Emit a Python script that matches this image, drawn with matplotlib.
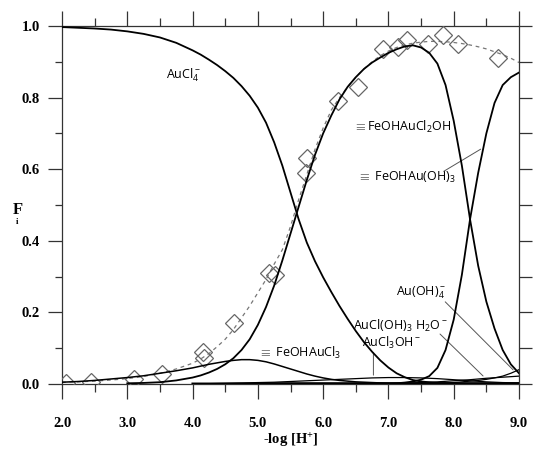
import numpy as np
import matplotlib
matplotlib.use("Agg")
import matplotlib.pyplot as plt
from matplotlib.ticker import MultipleLocator

plt.rcParams['mathtext.fontset'] = 'custom'
plt.rcParams['mathtext.rm'] = 'Open Sans'
plt.rcParams['mathtext.it'] = 'Open Sans:italic'
plt.rcParams['mathtext.bf'] = 'Open Sans:bold'

nan = float('nan')

# -log[H+] grid
pH = [2.0, 2.25, 2.5, 2.75, 3.0, 3.25, 3.5, 3.75, 4.0,
      4.125, 4.25, 4.375, 4.5, 4.625, 4.75, 4.875, 5.0, 5.125, 5.25, 5.375, 5.5, 5.625,
      5.75, 5.875, 6.0, 6.125, 6.25, 6.375, 6.5, 6.625, 6.75, 6.875, 7.0, 7.125, 7.25,
      7.375, 7.5, 7.625, 7.75, 7.875, 8.0, 8.125, 8.25, 8.375, 8.5, 8.625, 8.75, 8.875, 9.0]

aucl4 = [0.997, 0.995, 0.993, 0.99, 0.985, 0.978, 0.968, 0.953, 0.932,
         0.92, 0.906, 0.891, 0.874, 0.855, 0.832, 0.805, 0.772, 0.73, 0.675, 0.61, 0.535, 0.46,
         0.395, 0.343, 0.298, 0.257, 0.218, 0.182, 0.148, 0.117, 0.09, 0.066, 0.046, 0.03, 0.019,
         0.011, 0.007, 0.005, 0.003, 0.002, 0.002, 0.001, 0.001, 0.001, 0.001, 0.001, 0.001, 0.001, 0.001]
feohaucl2oh = [nan, nan, nan, nan, 0.002, 0.003, 0.005, 0.01, 0.018,
               0.024, 0.032, 0.042, 0.055, 0.072, 0.095, 0.125, 0.165, 0.215, 0.275, 0.345, 0.42, 0.495,
               0.57, 0.64, 0.70, 0.75, 0.795, 0.83, 0.857, 0.88, 0.898, 0.912, 0.925, 0.935, 0.943,
               0.946, 0.94, 0.925, 0.895, 0.835, 0.735, 0.61, 0.46, 0.33, 0.23, 0.155, 0.095, 0.055, 0.03]
feohauoh3 = [nan, nan, nan, nan, nan, nan, nan, nan, nan,
             nan, nan, nan, nan, nan, nan, nan, nan, nan, nan, nan, nan, nan,
             nan, nan, nan, nan, nan, nan, 0.0, 0.0, 0.0, 0.001, 0.001, 0.002, 0.004,
             0.007, 0.012, 0.022, 0.045, 0.095, 0.18, 0.305, 0.46, 0.59, 0.70, 0.785, 0.835, 0.857, 0.87]
feohaucl3 = [0.005, 0.007, 0.01, 0.014, 0.018, 0.023, 0.03, 0.037, 0.045,
             0.05, 0.055, 0.059, 0.063, 0.066, 0.068, 0.068, 0.066, 0.062, 0.056, 0.049, 0.042, 0.035,
             0.028, 0.022, 0.017, 0.013, 0.01, 0.008, 0.006, 0.005, 0.004, 0.003, 0.002, 0.0015, 0.001,
             0.0, 0.0, 0.0, 0.0, 0.0, 0.0, 0.0, 0.0, 0.0, 0.0, 0.0, 0.0, 0.0, 0.0]
aucl3oh = [nan, nan, nan, nan, nan, nan, nan, nan, 0.0,
           0.0005, 0.001, 0.0015, 0.002, 0.0025, 0.003, 0.0035, 0.004, 0.0045, 0.005, 0.006, 0.007, 0.008,
           0.009, 0.01, 0.011, 0.012, 0.013, 0.014, 0.015, 0.016, 0.017, 0.0175, 0.018, 0.018, 0.018,
           0.0175, 0.017, 0.016, 0.015, 0.0135, 0.012, 0.0105, 0.009, 0.0075, 0.006, 0.005, 0.004, 0.0035, 0.003]
aucloh3 = [nan, nan, nan, nan, nan, nan, nan, nan, nan,
           nan, nan, nan, nan, nan, nan, nan, nan, nan, nan, nan, nan, nan,
           nan, nan, nan, nan, nan, nan, nan, nan, 0.0, 0.0005, 0.001, 0.0015, 0.002,
           0.003, 0.004, 0.005, 0.006, 0.0075, 0.009, 0.0105, 0.012, 0.014, 0.016, 0.0175, 0.019, 0.0205, 0.022]
auoh4 = [nan, nan, nan, nan, nan, nan, nan, nan, nan,
         nan, nan, nan, nan, nan, nan, nan, nan, nan, nan, nan, nan, nan,
         nan, nan, nan, nan, nan, nan, nan, nan, nan, nan, nan, nan, nan,
         nan, 0.0, 0.001, 0.002, 0.003, 0.004, 0.006, 0.008, 0.01, 0.013, 0.017, 0.022, 0.03, 0.04]
aucl2oh2 = [nan, nan, nan, nan, nan, nan, nan, nan, 0.001,
            0.001, 0.001, 0.001, 0.001, 0.001, 0.001, 0.001, 0.002, 0.002, 0.002, 0.002, 0.002, 0.002,
            0.002, 0.002, 0.002, 0.002, 0.002, 0.002, 0.002, 0.002, 0.002, 0.002, 0.002, 0.002, 0.002,
            0.002, 0.002, 0.002, 0.002, 0.002, 0.002, 0.002, 0.002, 0.002, 0.002, 0.002, 0.002, 0.002, 0.002]
total_fit = [0.005, 0.006, 0.008, 0.011, 0.015, 0.021, 0.03, 0.042, 0.058,
             0.07, 0.085, 0.104, 0.125, 0.152, 0.185, 0.218, 0.255, 0.292, 0.335, 0.375, 0.44, 0.515,
             0.585, 0.655, 0.715, 0.765, 0.80, 0.83, 0.857, 0.88, 0.90, 0.917, 0.93, 0.94, 0.947,
             0.952, 0.955, 0.957, 0.957, 0.956, 0.954, 0.951, 0.947, 0.942, 0.936, 0.928, 0.92, 0.91, 0.898]

# measured adsorbed fraction (diamonds)
obs_pH = [2.06, 2.44, 3.10, 3.53, 4.16, 4.17, 4.63, 5.17, 5.27, 5.73, 5.76, 6.22, 6.54,
          6.91, 7.14, 7.28, 7.60, 7.83, 8.07, 8.68]
obs_F = [0.003, 0.005, 0.014, 0.028, 0.09, 0.073, 0.17, 0.31, 0.305, 0.59, 0.63, 0.79, 0.83,
         0.935, 0.94, 0.96, 0.95, 0.975, 0.95, 0.91]

fig = plt.figure(figsize=(5.33, 4.51), dpi=100)
ax = fig.add_axes([62/533, 67/451, (519-62)/533, (384-26)/451])

ax.plot(pH, total_fit, color='#777777', lw=0.9, ls=(0, (3, 3)), zorder=2)
ax.plot(obs_pH, obs_F, ls='none', marker='D', ms=9, mfc='none', mec='#666666', mew=0.9, zorder=3)

for ys, lw in [(aucl4, 1.3), (feohaucl2oh, 1.3), (feohauoh3, 1.3), (feohaucl3, 1.1),
               (aucl3oh, 0.9), (aucloh3, 0.9), (auoh4, 0.9), (aucl2oh2, 1.6)]:
    ax.plot(pH, ys, color='black', lw=lw, zorder=4)

ax.set_xlim(2.0, 9.0)
ax.set_ylim(0.0, 1.0)

for s in ['left', 'bottom', 'top', 'right']:
    ax.spines[s].set_linewidth(0.9)
    ax.spines[s].set_color('#333333')

ax.xaxis.set_major_locator(MultipleLocator(1.0))
ax.xaxis.set_minor_locator(MultipleLocator(0.5))
ax.yaxis.set_major_locator(MultipleLocator(0.2))
ax.yaxis.set_minor_locator(MultipleLocator(0.1))
ax.tick_params(axis='x', which='both', direction='out', top=True, bottom=True, colors='#333333')
ax.tick_params(axis='x', which='major', length=11, width=0.9, pad=12.5)
ax.tick_params(axis='x', which='minor', length=6, width=0.9)
ax.tick_params(axis='y', which='both', direction='out', left=True, right=False, colors='#333333')
ax.tick_params(axis='y', which='major', length=10, width=0.9, pad=6)
ax.tick_params(axis='y', which='minor', length=5, width=0.9)
ax.set_xticklabels([f"{v:.1f}" for v in ax.get_xticks()])
ax.set_yticklabels([f"{v:.1f}" for v in ax.get_yticks()])
for lab in ax.get_xticklabels() + ax.get_yticklabels():
    lab.set_fontfamily('Liberation Serif')
    lab.set_fontweight('bold')
    lab.set_fontsize(10.5)
    lab.set_color('black')

ax2 = ax.twinx()
ax2.set_ylim(0.0, 1.0)
ax2.yaxis.set_major_locator(MultipleLocator(0.1))
ax2.tick_params(axis='y', direction='out', length=9, width=0.9, labelright=False, colors='#333333')
for s in ['left', 'bottom', 'top', 'right']:
    ax2.spines[s].set_visible(False)

ax.set_xlabel('-log [H$^{+}$]', fontfamily='Liberation Serif', fontweight='bold',
              fontsize=10.5, labelpad=0)
fig.text(13/533, 1 - 210/451, 'F', fontfamily='Liberation Serif', fontweight='bold',
         fontsize=12, ha='left', va='center')
fig.text(16/533, 1 - 222/451, 'i', fontfamily='Liberation Serif', fontweight='bold',
         fontsize=6.5, ha='left', va='center')

fs = 9
ax.text(3.59, 0.862, r'$\mathrm{AuCl}_4^-$', fontsize=fs, ha='left', va='center')
ax.text(6.45, 0.718, r'$\equiv\mathrm{FeOHAuCl}_2\mathrm{OH}$', fontsize=fs, ha='left', va='center')
ax.text(6.52, 0.578, r'$\equiv\ \mathrm{FeOHAu(OH)}_3$', fontsize=fs, ha='left', va='center')
ax.text(5.0, 0.087, r'$\equiv\ \mathrm{FeOHAuCl}_3$', fontsize=fs, ha='left', va='center')
ax.text(7.11, 0.254, r'$\mathrm{Au(OH)}_4^-$', fontsize=fs, ha='left', va='center')
ax.text(6.46, 0.162, r'$\mathrm{AuCl(OH)}_3\ \mathrm{H}_2\mathrm{O}^-$', fontsize=fs, ha='left', va='center')
ax.text(6.60, 0.115, r'$\mathrm{AuCl}_3\mathrm{OH}^-$', fontsize=fs, ha='left', va='center')

# leader lines
ax.annotate('', xy=(8.45, 0.66), xytext=(7.81, 0.59),
            arrowprops=dict(arrowstyle='-', color='#555555', lw=0.7))
ax.annotate('', xy=(8.94, 0.034), xytext=(7.84, 0.235),
            arrowprops=dict(arrowstyle='-', color='#555555', lw=0.7))
ax.annotate('', xy=(8.48, 0.017), xytext=(7.76, 0.145),
            arrowprops=dict(arrowstyle='-', color='#555555', lw=0.7))
ax.annotate('', xy=(6.77, 0.017), xytext=(6.77, 0.095),
            arrowprops=dict(arrowstyle='-', color='#555555', lw=0.7))

fig.savefig('out.png', dpi=100)
